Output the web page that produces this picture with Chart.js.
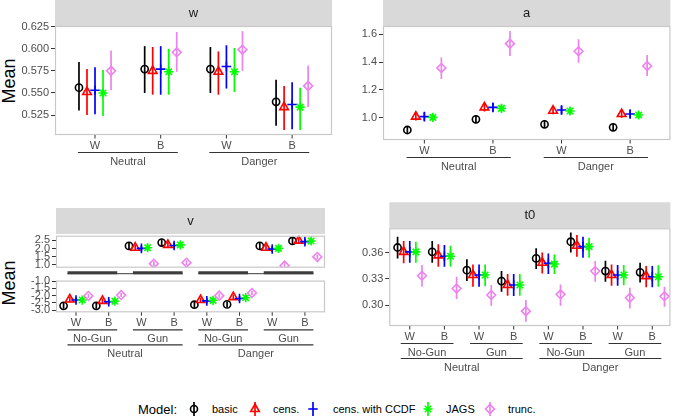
<!DOCTYPE html>
<html lang="en">
<head>
<meta charset="UTF-8" />
<title>Model means</title>
<script src="https://cdn.jsdelivr.net/npm/chart.js"></script>
<style>
  body { margin: 0; width: 677px; height: 419px; background: #fff; position: relative; overflow: hidden;
         font-family: "Liberation Sans", Arial, sans-serif; }
  canvas { position: absolute; }
  .ylab { position: absolute; font-size: 18px; color: #000; transform: translate(-50%, -50%) rotate(-90deg); white-space: nowrap; }
  .lg { position: absolute; top: 409px; transform: translateY(-50%); font-size: 11px; color: #000; white-space: nowrap; }
  .lg.title { font-size: 13px; }
  svg.sym { position: absolute; top: 400px; }
</style>
</head>
<body>
<div class="ylab" style="left:9px; top:81px;">Mean</div>
<div class="ylab" style="left:9px; top:283px;">Mean</div>

<div class="lg title" style="left:138px;">Model:</div>
<svg class="sym" style="left:188px" width="12" height="18"><line x1="6" y1="2" x2="6" y2="16" stroke="#000" stroke-width="1.7"/><circle cx="6" cy="9" r="3.5" fill="none" stroke="#000" stroke-width="1.6"/></svg>
<div class="lg" style="left:212px;">basic</div>
<svg class="sym" style="left:249px" width="12" height="18"><line x1="6" y1="2" x2="6" y2="16" stroke="#f00" stroke-width="1.7"/><polygon points="6,4 10.3,11.5 1.7,11.5" fill="none" stroke="#f00" stroke-width="1.6"/></svg>
<div class="lg" style="left:273px;">cens.</div>
<svg class="sym" style="left:307px" width="12" height="18"><line x1="6" y1="2" x2="6" y2="16" stroke="#00f" stroke-width="1.7"/><line x1="1.3" y1="9" x2="10.7" y2="9" stroke="#00f" stroke-width="1.6"/></svg>
<div class="lg" style="left:333px;">cens. with CCDF</div>
<svg class="sym" style="left:422px" width="12" height="18"><line x1="6" y1="2" x2="6" y2="16" stroke="#0f0" stroke-width="1.7"/><line x1="2.8" y1="5.8" x2="9.2" y2="12.2" stroke="#0f0" stroke-width="1.6"/><line x1="9.2" y1="5.8" x2="2.8" y2="12.2" stroke="#0f0" stroke-width="1.6"/><line x1="1.5" y1="9" x2="10.5" y2="9" stroke="#0f0" stroke-width="1.6"/></svg>
<div class="lg" style="left:446px;">JAGS</div>
<svg class="sym" style="left:484px" width="12" height="18"><line x1="6" y1="2" x2="6" y2="16" stroke="#ee82ee" stroke-width="1.7"/><polygon points="6,4.5 10.5,9 6,13.5 1.5,9" fill="none" stroke="#ee82ee" stroke-width="1.6"/></svg>
<div class="lg" style="left:508px;">trunc.</div>

<script>
// ---- data ----
const models = ["basic", "cens.", "cens. with CCDF", "JAGS", "trunc."];

// w and a panels: 4 cells
const race4 = ["W", "B", "W", "B"];
const cond4 = ["Neutral", "Neutral", "Danger", "Danger"];

// v and t0 panels: 8 cells
const race8 = ["W", "B", "W", "B", "W", "B", "W", "B"];
const gun8 = ["No-Gun", "No-Gun", "Gun", "Gun", "No-Gun", "No-Gun", "Gun", "Gun"];
const cond8 = ["Neutral", "Neutral", "Neutral", "Neutral", "Danger", "Danger", "Danger", "Danger"];

// rows = models (basic, cens., cens. with CCDF, JAGS, trunc.)
const wMean = [
  [0.556, 0.577, 0.577, 0.540],
  [0.551, 0.575, 0.574, 0.534],
  [0.553, 0.577, 0.580, 0.537],
  [0.550, 0.574, 0.574, 0.534],
  [0.575, 0.596, 0.599, 0.558]
];
const wLo = [
  [0.530, 0.550, 0.550, 0.513],
  [0.525, 0.548, 0.548, 0.508],
  [0.526, 0.548, 0.555, 0.509],
  [0.524, 0.548, 0.551, 0.508],
  [0.553, 0.574, 0.575, 0.534]
];
const wHi = [
  [0.585, 0.603, 0.602, 0.565],
  [0.577, 0.602, 0.597, 0.558],
  [0.579, 0.603, 0.604, 0.562],
  [0.576, 0.600, 0.601, 0.556],
  [0.598, 0.619, 0.620, 0.581]
];

const aMean = [
  [0.911, 0.988, 0.952, 0.930],
  [1.007, 1.074, 1.050, 1.026],
  [1.007, 1.074, 1.055, 1.026],
  [1.002, 1.067, 1.048, 1.019],
  [1.358, 1.533, 1.478, 1.372]
];
const aLo = [
  [0.882, 0.960, 0.928, 0.905],
  [0.980, 1.045, 1.025, 1.000],
  [0.978, 1.045, 1.025, 0.998],
  [0.978, 1.042, 1.022, 0.995],
  [1.278, 1.444, 1.396, 1.300]
];
const aHi = [
  [0.940, 1.015, 0.978, 0.955],
  [1.035, 1.102, 1.078, 1.052],
  [1.037, 1.104, 1.085, 1.055],
  [1.028, 1.094, 1.075, 1.045],
  [1.434, 1.624, 1.564, 1.451]
];

const vMean = [
  [-2.70, -2.70, 2.16, 2.36, -2.62, -2.60, 2.16, 2.46],
  [-2.26, -2.36, 2.05, 2.22, -2.30, -2.10, 2.05, 2.48],
  [-2.30, -2.42, 2.01, 2.18, -2.36, -2.20, 1.97, 2.42],
  [-2.30, -2.38, 2.05, 2.22, -2.32, -2.14, 2.01, 2.46],
  [-2.02, -1.96, 1.08, 1.14, -2.00, -1.82, 0.96, 1.49]
];
const vLo = [
  [-2.90, -2.90, 1.96, 2.16, -2.82, -2.80, 1.96, 2.26],
  [-2.44, -2.54, 1.87, 2.04, -2.48, -2.28, 1.87, 2.30],
  [-2.48, -2.60, 1.83, 2.00, -2.54, -2.38, 1.79, 2.24],
  [-2.48, -2.56, 1.87, 2.04, -2.50, -2.32, 1.83, 2.28],
  [-2.16, -2.10, 0.94, 1.00, -2.14, -1.96, 0.82, 1.35]
];
const vHi = [
  [-2.50, -2.50, 2.36, 2.56, -2.42, -2.40, 2.36, 2.66],
  [-2.08, -2.18, 2.23, 2.40, -2.12, -1.92, 2.23, 2.66],
  [-2.12, -2.24, 2.19, 2.36, -2.18, -2.02, 2.15, 2.60],
  [-2.12, -2.20, 2.23, 2.40, -2.14, -1.96, 2.19, 2.64],
  [-1.88, -1.82, 1.22, 1.28, -1.86, -1.68, 1.10, 1.63]
];

const t0Mean = [
  [0.366, 0.361, 0.340, 0.3275, 0.3535, 0.3726, 0.339, 0.3375],
  [0.361, 0.357, 0.3344, 0.323, 0.3485, 0.368, 0.3344, 0.3332],
  [0.361, 0.356, 0.3344, 0.323, 0.348, 0.367, 0.3344, 0.3325],
  [0.361, 0.356, 0.3344, 0.323, 0.347, 0.367, 0.3344, 0.3325],
  [0.3336, 0.319, 0.3115, 0.293, 0.3123, 0.339, 0.3084, 0.310]
];
const t0Lo = [
  [0.3535, 0.3485, 0.3275, 0.3153, 0.3413, 0.3604, 0.3268, 0.326],
  [0.3478, 0.344, 0.321, 0.3107, 0.3363, 0.3554, 0.3222, 0.3203],
  [0.3485, 0.344, 0.321, 0.3103, 0.3355, 0.3542, 0.3222, 0.3203],
  [0.3485, 0.344, 0.3215, 0.3107, 0.3355, 0.3542, 0.3226, 0.321],
  [0.321, 0.3069, 0.2992, 0.2809, 0.2992, 0.3268, 0.2962, 0.2981]
];
const t0Hi = [
  [0.3783, 0.3734, 0.3524, 0.339, 0.365, 0.3833, 0.3508, 0.3485],
  [0.3734, 0.3696, 0.3466, 0.3355, 0.3604, 0.3802, 0.3466, 0.3447],
  [0.3734, 0.3688, 0.3466, 0.3355, 0.3592, 0.3783, 0.3458, 0.3447],
  [0.3726, 0.3680, 0.3466, 0.3355, 0.3580, 0.3772, 0.3458, 0.3455],
  [0.3459, 0.3325, 0.3229, 0.3057, 0.3237, 0.3504, 0.3199, 0.321]
];

const wTicks = [0.525, 0.55, 0.575, 0.6, 0.625];
const aTicks = [1.0, 1.2, 1.4, 1.6];
const vGunTicks = [1.0, 1.5, 2.0, 2.5];
const vNoGunTicks = [-3.0, -2.5, -2.0, -1.5, -1.0];
const t0Ticks = [0.30, 0.33, 0.36];

// ---- styles ----
const colors = ["#000000", "#ff0000", "#0000ff", "#00ff00", "#ee82ee"];
const shapes = ["circle", "triangle", "cross", "star", "rectRot"];
const radii = [3.6, 5, 4.8, 4.6, 4.4];
const FONT = "'Liberation Sans', Arial, sans-serif";
Chart.defaults.font.family = FONT;

function runs(labels) {
  const out = [];
  labels.forEach((l, i) => {
    const last = out[out.length - 1];
    if (last && last.label === l && last.to === i) last.to = i + 1;
    else out.push({ label: l, from: i + 1, to: i + 1 });
  });
  return out;
}

const deco = {
  id: "deco",
  beforeDatasetDraw(chart, args) {
    const ds = chart.data.datasets[args.index];
    const { ctx, chartArea: a } = chart;
    const xs = chart.scales.x, ys = chart.scales.y;
    ctx.save();
    ctx.beginPath();
    ctx.rect(a.left, a.top, a.right - a.left, a.bottom - a.top);
    ctx.clip();
    ctx.strokeStyle = ds.pointBorderColor;
    ctx.lineWidth = 1.7;
    ds.data.forEach(p => {
      const x = xs.getPixelForValue(p.x);
      ctx.beginPath();
      ctx.moveTo(x, ys.getPixelForValue(p.lo));
      ctx.lineTo(x, ys.getPixelForValue(p.hi));
      ctx.stroke();
    });
    ctx.restore();
  },
  afterDraw(chart, args, o) {
    const { ctx, chartArea: a } = chart;
    const xs = chart.scales.x;
    const b = a.bottom;
    ctx.save();
    // strip
    if (o.title) {
      const top = a.top - (o.stripGap || 0) - 26;
      ctx.fillStyle = "#d9d9d9";
      ctx.fillRect(a.left, top, a.right - a.left, 26);
      ctx.fillStyle = "#1a1a1a";
      ctx.font = "13px " + FONT;
      ctx.textAlign = "center";
      ctx.textBaseline = "middle";
      ctx.fillText(o.title, (a.left + a.right) / 2, top + 13);
    }
    // panel border
    ctx.strokeStyle = "#c8c8c8";
    ctx.lineWidth = 1.2;
    ctx.strokeRect(a.left + 0.5, a.top + 0.5, a.right - a.left - 1, a.bottom - a.top - 1);

    const ext = 0.26;
    ctx.strokeStyle = "#333";
    ctx.fillStyle = "#4d4d4d";
    ctx.font = "11px " + FONT;
    ctx.textAlign = "center";
    ctx.textBaseline = "middle";
    if (o.tickLabels) {
      o.tickLabels.forEach((l, i) => {
        const x = xs.getPixelForValue(i + 1);
        ctx.lineWidth = 1;
        ctx.beginPath(); ctx.moveTo(x, b); ctx.lineTo(x, b + 3.5); ctx.stroke();
        ctx.fillText(l, x, b + 10.5);
      });
      const offs = [[17.5, 26.7], [32.5, 41.7]];
      (o.levels || []).forEach((lev, k) => {
        runs(lev).forEach(g => {
          const x0 = xs.getPixelForValue(g.from - ext), x1 = xs.getPixelForValue(g.to + ext);
          ctx.lineWidth = 1.2;
          ctx.beginPath(); ctx.moveTo(x0, b + offs[k][0]); ctx.lineTo(x1, b + offs[k][0]); ctx.stroke();
          ctx.fillText(g.label, (x0 + x1) / 2, b + offs[k][1]);
        });
      });
    }
    if (o.ghostLines) {
      ctx.strokeStyle = "#3d3d3d";
      runs(o.ghostLines[0]).forEach(g => {
        ctx.lineWidth = 3;
        ctx.beginPath();
        ctx.moveTo(xs.getPixelForValue(g.from - ext), b + 5);
        ctx.lineTo(xs.getPixelForValue(g.to + ext), b + 5);
        ctx.stroke();
      });
      runs(o.ghostLines[1]).forEach(g => {
        ctx.lineWidth = 1;
        ctx.beginPath();
        ctx.moveTo(xs.getPixelForValue(g.from - ext), b + 6);
        ctx.lineTo(xs.getPixelForValue(g.to + ext), b + 6);
        ctx.stroke();
      });
    }
    ctx.restore();
  }
};

function panel(c) {
  const cv = document.createElement("canvas");
  cv.width = c.w; cv.height = c.h;
  cv.style.left = c.x + "px"; cv.style.top = c.y + "px";
  document.body.appendChild(cv);

  const datasets = models.map((m, k) => ({
    label: m,
    order: models.length - k,
    data: c.mean[k]
      .map((v, i) => (c.keep ? c.keep(i) : true)
        ? { x: i + 1 + (k - 2) * c.dodge, y: v, lo: c.lo[k][i], hi: c.hi[k][i] } : null)
      .filter(Boolean),
    pointStyle: shapes[k],
    pointRadius: radii[k],
    pointBorderWidth: 1.6,
    pointBorderColor: colors[k],
    pointBackgroundColor: "rgba(0,0,0,0)",
    borderColor: colors[k],
    backgroundColor: "rgba(0,0,0,0)",
    pointHoverRadius: radii[k]
  }));

  new Chart(cv, {
    type: "scatter",
    data: { datasets },
    options: {
      responsive: false,
      animation: false,
      devicePixelRatio: 1,
      layout: { padding: { top: c.padTop, right: c.padRight, bottom: c.padBottom, left: 0 } },
      plugins: {
        legend: { display: false },
        tooltip: { enabled: false },
        deco: { title: c.title, stripGap: c.stripGap, tickLabels: c.tickLabels, levels: c.levels, ghostLines: c.ghostLines }
      },
      scales: {
        x: { type: "linear", display: false, min: c.xMin, max: c.xMax },
        y: {
          min: c.yMin, max: c.yMax,
          afterBuildTicks: s => { s.ticks = c.yTicks.map(v => ({ value: v })); },
          afterFit: s => { s.width = c.yw; s.paddingTop = 0; s.paddingBottom = 0; },
          ticks: { autoSkip: false, color: "#4d4d4d", font: { size: 11 }, padding: 2,
                   callback: v => Number(v).toFixed(c.dec) },
          grid: { drawOnChartArea: false, tickLength: 4, color: "#333", lineWidth: 1 },
          border: { display: false }
        }
      }
    },
    plugins: [deco]
  });
}

panel({ title: "w", x: 0, y: 0, w: 340, h: 175, padTop: 26, padRight: 8, padBottom: 40, yw: 55,
  xMin: 0.391, xMax: 4.607, yMin: 0.5024, yMax: 0.6258, yTicks: wTicks, dec: 3, dodge: 0.122,
  mean: wMean, lo: wLo, hi: wHi, tickLabels: race4, levels: [cond4] });

panel({ title: "a", x: 340, y: 0, w: 337, h: 180, padTop: 26, padRight: 2, padBottom: 40, yw: 43,
  xMin: 0.397, xMax: 4.587, yMin: 0.839, yMax: 1.66, yTicks: aTicks, dec: 1, dodge: 0.124,
  mean: aMean, lo: aLo, hi: aHi, tickLabels: race4, levels: [cond4] });

panel({ title: "v", stripGap: 1.7, x: 0, y: 205, w: 340, h: 70, padTop: 30.7, padRight: 15, padBottom: 7.3, yw: 56,
  xMin: 0.388, xMax: 8.614, yMin: 0.835, yMax: 2.78, yTicks: vGunTicks, dec: 1, dodge: 0.19,
  mean: vMean, lo: vLo, hi: vHi, keep: i => gun8[i] === "Gun", ghostLines: [gun8, cond8] });

panel({ x: 0, y: 274, w: 340, h: 90, padTop: 2.7, padRight: 15, padBottom: 51.7, yw: 56,
  xMin: 0.388, xMax: 8.614, yMin: -3.14, yMax: -0.97, yTicks: vNoGunTicks, dec: 1, dodge: 0.19,
  mean: vMean, lo: vLo, hi: vHi, keep: i => gun8[i] === "No-Gun", tickLabels: race8, levels: [gun8, cond8] });

panel({ title: "t0", x: 340, y: 195, w: 337, h: 180, padTop: 33.3, padRight: 3.7, padBottom: 49, yw: 49.3,
  xMin: 0.409, xMax: 8.523, yMin: 0.276, yMax: 0.388, yTicks: t0Ticks, dec: 2, dodge: 0.176,
  mean: t0Mean, lo: t0Lo, hi: t0Hi, tickLabels: race8, levels: [gun8, cond8] });
</script>
</body>
</html>
